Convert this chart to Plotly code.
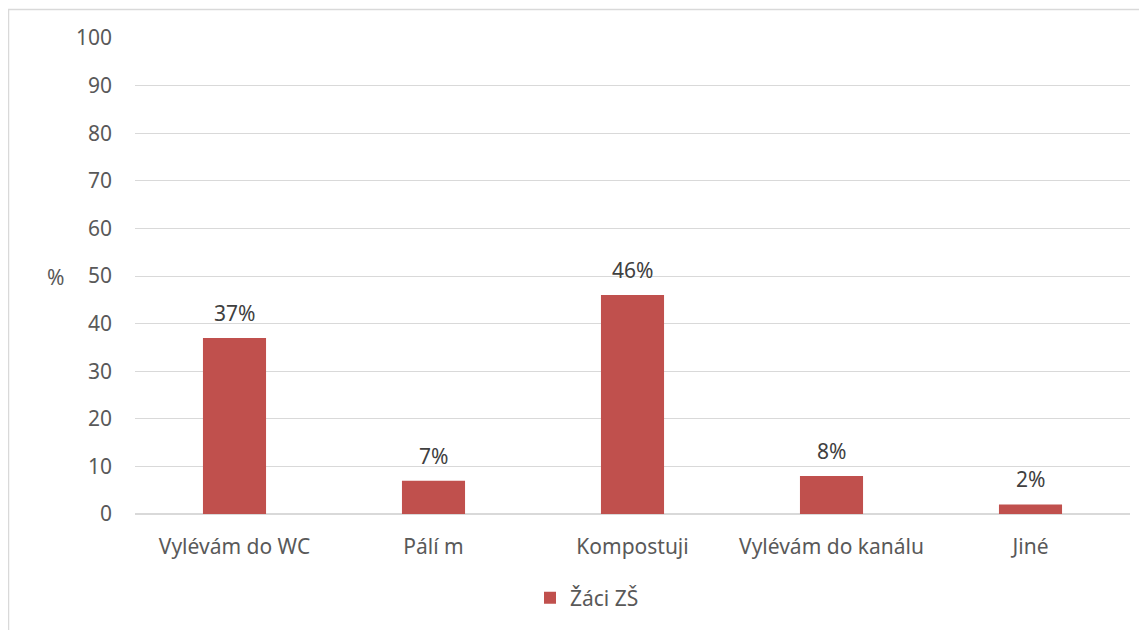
import plotly.graph_objects as go

categories = ["Vylévám do WC", "Pálí m", "Kompostuji", "Vylévám do kanálu", "Jiné"]
values = [37, 7, 46, 8, 2]
series_name = "Žáci ZŠ"
y_ticks = list(range(0, 101, 10))

# page has an 8px body margin, so figure coords = screen coords - 8
OFF = 8
W, H = 1147, 630
L, R, T, B = 135 - OFF, W - (1130 - OFF), 38 - OFF, H - (514 - OFF)
pw, ph = W - L - R, H - T - B


def px(x):
    return (x - OFF - L) / pw


def py(y):
    return (H - B - (y - OFF)) / ph


font = dict(family="Noto Sans, Open Sans, sans-serif", size=21, color="#595959")
label_font = dict(family="Noto Sans, Open Sans, sans-serif", size=21, color="#404040")

fig = go.Figure()
fig.add_trace(go.Bar(
    x=categories, y=values, name=series_name,
    marker=dict(color="#C0504D", line=dict(width=0)),
    width=0.317,
))

annotations = [dict(text="%", xref="paper", yref="paper", x=px(55), y=py(277),
                    showarrow=False, font=font, xanchor="center", yanchor="middle")]
for c, v in zip(categories, values):
    annotations.append(dict(x=c, y=v, text=f"{v}%", showarrow=False, yanchor="bottom",
                            yshift=9, font=label_font))

fig.update_layout(
    width=W, height=H,
    margin=dict(l=L, r=R, t=T, b=B, autoexpand=False),
    plot_bgcolor="white", paper_bgcolor="white",
    font=font,
    showlegend=True,
    legend=dict(orientation="h", xref="container", yref="container",
                x=(530 - OFF) / W, y=(H - (598 - OFF)) / H, xanchor="left", yanchor="middle",
                font=font),
    xaxis=dict(showgrid=False, ticks="", showline=False, tickfont=font,
               automargin=False, ticklabelstandoff=18),
    yaxis=dict(range=[0, 100], tickvals=y_ticks, showgrid=True, gridcolor="#D9D9D9",
               gridwidth=1, zeroline=True, zerolinecolor="#D9D9D9", zerolinewidth=1.5,
               showline=False, ticks="", ticklabelstandoff=22, tickfont=font,
               automargin=False),
    shapes=[dict(type="rect", xref="paper", yref="paper",
                 x0=px(8.5), x1=px(1170), y0=py(650), y1=py(9.5),
                 line=dict(color="#D9D9D9", width=1.5), fillcolor="rgba(0,0,0,0)",
                 layer="below")],
    annotations=annotations,
)

fig.write_html("out.html")
